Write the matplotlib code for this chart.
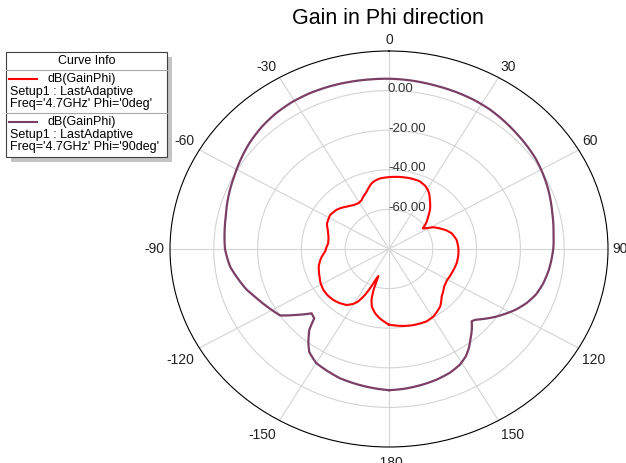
import numpy as np
import matplotlib
matplotlib.use('Agg')
import matplotlib.pyplot as plt
from matplotlib.patches import Rectangle

plt.rcParams['font.family'] = ['Liberation Sans', 'DejaVu Sans']

TITLE = 'Gain in Phi direction'
LEGEND_TITLE = 'Curve Info'
TRACE_NAME = 'dB(GainPhi)'
SETUP_NAME = 'Setup1 : LastAdaptive'
SERIES_LABELS = ["Freq='4.7GHz' Phi='0deg'", "Freq='4.7GHz' Phi='90deg'"]
SERIES_COLORS = ['#ff0000', '#7b3f65']

# Phi = 0deg trace, theta in degrees, gain in dB
PHI0_THETA = [-180, -178.3, -173, -169, -165, -162.5, -161.2, -160.5, -158.5, -156.5,
              -154.5, -152, -149.5, -145.5, -140, -135, -130, -125, -119, -114,
              -105, -98.5, -92.5, -84, -78, -72.5, -65.5, -57.5, -50.5, -46,
              -42, -36, -31, -27, -24, -20, -17, -13.5, -10, -6.5,
              0, 7, 15, 22, 27.5, 30.5, 33, 37, 42.5, 47.5,
              52.5, 56, 58.5, 61.5, 66, 70, 74.5, 81.5, 89.5, 96,
              103, 113, 121, 127, 135, 141, 149, 155, 164, 170.5,
              176, 180]
PHI0_GAIN = [-41.8, -42.5, -44.8, -46.9, -49.8, -53.5, -58.0, -65.5, -63.5, -58.5,
             -54.0, -50.0, -47.8, -45.7, -44.5, -43.8, -43.5, -43.6, -44.3, -45.3,
             -46.8, -48.6, -50.8, -52.1, -51.8, -50.8, -48.9, -48.1, -48.9, -50.0,
             -51.2, -52.6, -53.0, -52.4, -51.1, -49.6, -47.9, -45.9, -44.8, -44.1,
             -43.7, -43.3, -43.0, -43.0, -44.1, -45.2, -46.4, -49.0, -52.2, -55.7,
             -58.7, -61.4, -59.9, -57.0, -54.5, -52.3, -50.3, -48.8, -48.3, -48.2,
             -48.3, -48.9, -49.2, -48.5, -46.0, -42.8, -40.4, -39.6, -40.0, -40.6,
             -41.3, -41.8]

# Phi = 90deg trace
PHI90_THETA = [-180, -171.5, -161, -150, -145, -142.3, -138.3, -135.7, -132.6, -128.3,
               -124, -120.5, -117.4, -112, -107.5, -102, -97, -90, -84, -77.7,
               -70, -62.7, -56, -50, -43, -37, -31, -25, -18, -12,
               -6, 0, 5, 10, 15, 21, 27, 33, 38.5, 44.5,
               50, 56, 61, 66, 71, 76, 83, 90, 98, 104,
               109, 113.5, 118, 121.5, 125, 128.5, 132, 134, 136.5, 138.5,
               141, 144, 147, 151, 156, 162, 167.5, 174, 180]
PHI90_GAIN = [-8.7, -9.7, -11.0, -13.5, -16.5, -19.8, -25.3, -31.1, -32.0, -26.3,
              -20.0, -18.5, -17.1, -14.5, -11.8, -9.3, -6.9, -5.1, -4.5, -3.7,
              -2.0, -0.4, 1.5, 3.2, 4.8, 5.8, 6.4, 6.6, 6.5, 6.3,
              6.1, 6.0, 5.8, 5.5, 5.2, 5.0, 4.7, 4.2, 3.4, 2.5,
              1.8, 1.0, 0.0, -1.0, -2.1, -3.2, -4.3, -5.0, -6.2, -7.5,
              -9.1, -11.5, -14.6, -17.5, -20.4, -23.5, -26.7, -27.5, -25.0, -23.2,
              -21.0, -18.0, -15.5, -13.2, -11.6, -10.5, -9.8, -9.1, -8.7]

R_MIN, R_MAX = -80, 20
R_TICKS = [-60, -40, -20, 0]
ANGLE_TICKS = [0, 30, 60, 90, 120, 150, 180, 210, 240, 270, 300, 330]
ANGLE_LABELS = ['0', '30', '60', '90', '120', '150', '-180', '-150', '-120', '-90', '-60', '-30']

W, H = 626, 463


def fig_box(x0, y0, x1, y1):
    return [x0 / W, 1 - y1 / H, (x1 - x0) / W, (y1 - y0) / H]


fig = plt.figure(figsize=(W / 100, H / 100), dpi=100)
fig.patch.set_facecolor('white')

ax = fig.add_axes(fig_box(170, 51, 608, 447), projection='polar')
ax.set_theta_zero_location('N')
ax.set_theta_direction(-1)
ax.set_ylim(R_MIN, R_MAX)
ax.set_aspect('auto')

traces = [(PHI90_THETA, PHI90_GAIN, SERIES_COLORS[1], 1.6),
          (PHI0_THETA, PHI0_GAIN, SERIES_COLORS[0], 1.5)]
for th, g, col, lw in traces:
    ln, = ax.plot(np.deg2rad(th), g, color=col, lw=lw, zorder=3)
    # draw segments as arcs in polar space instead of straight chords
    ln.get_path()._interpolation_steps = 8

ax.set_xticks(np.deg2rad(ANGLE_TICKS))
ax.set_xticklabels([])
ax.set_xticks(np.deg2rad(np.arange(0, 360, 5)), minor=True)
ax.tick_params(axis='x', which='major', direction='in', length=7, width=0.8, color='black')
ax.tick_params(axis='x', which='minor', direction='in', length=3.5, width=0.7, color='black')
ax.set_yticks(R_TICKS)
ax.set_yticklabels([])
ax.grid(True, color='#d4d4d4', lw=0.8)
ax.spines['polar'].set_color('black')
ax.spines['polar'].set_linewidth(0.8)

for r in R_TICKS:
    ax.annotate(f'{r:.2f}', xy=(0, r), xytext=(-0.8, -1.2), textcoords='offset points',
                ha='left', va='baseline', fontsize=9.5, color='#333333', zorder=4)

for ang, lab in zip(ANGLE_TICKS, ANGLE_LABELS):
    s, c = np.sin(np.deg2rad(ang)), np.cos(np.deg2rad(ang))
    ha = 'left' if s > 0.1 else ('right' if s < -0.1 else 'center')
    va = 'bottom' if c > 0.1 else ('top' if c < -0.1 else 'center')
    dx = 4 * s if s > 0 else 6 * s
    dy = 4 * c if c > 0 else 9 * c
    ax.annotate(lab, xy=(np.deg2rad(ang), R_MAX), xytext=(dx * 0.72, dy * 0.72),
                textcoords='offset points', ha=ha, va=va, fontsize=10,
                color='#222222', annotation_clip=False)

fig.text(388 / W, 1 - 18 / H, TITLE, ha='center', va='center', fontsize=15.5)

# legend box drawn in pixel coordinates
lax = fig.add_axes(fig_box(0, 40, 180, 170))
lax.set_xlim(0, 180)
lax.set_ylim(170, 40)
lax.axis('off')
lax.add_patch(Rectangle((11, 57), 161, 105, facecolor='#c4c4c4', edgecolor='none'))
lax.add_patch(Rectangle((6, 52), 161, 105, facecolor='white', edgecolor='#404040', lw=0.8))
lax.plot([6, 167], [70, 70], color='#a8a8a8', lw=0.8)
lax.plot([6, 167], [113, 113], color='#a8a8a8', lw=0.8)
lax.text(86.5, 61, LEGEND_TITLE, ha='center', va='center', fontsize=9)
for i, (lab, col) in enumerate(zip(SERIES_LABELS, SERIES_COLORS)):
    y0 = 79 + i * 43
    lax.plot([9, 37], [y0, y0], color=col, lw=1.5)
    lax.text(47, y0, TRACE_NAME, va='center', fontsize=9)
    lax.text(10, y0 + 13, SETUP_NAME, va='center', fontsize=9)
    lax.text(10, y0 + 25, lab, va='center', fontsize=9)

fig.savefig('out.png', dpi=100)
